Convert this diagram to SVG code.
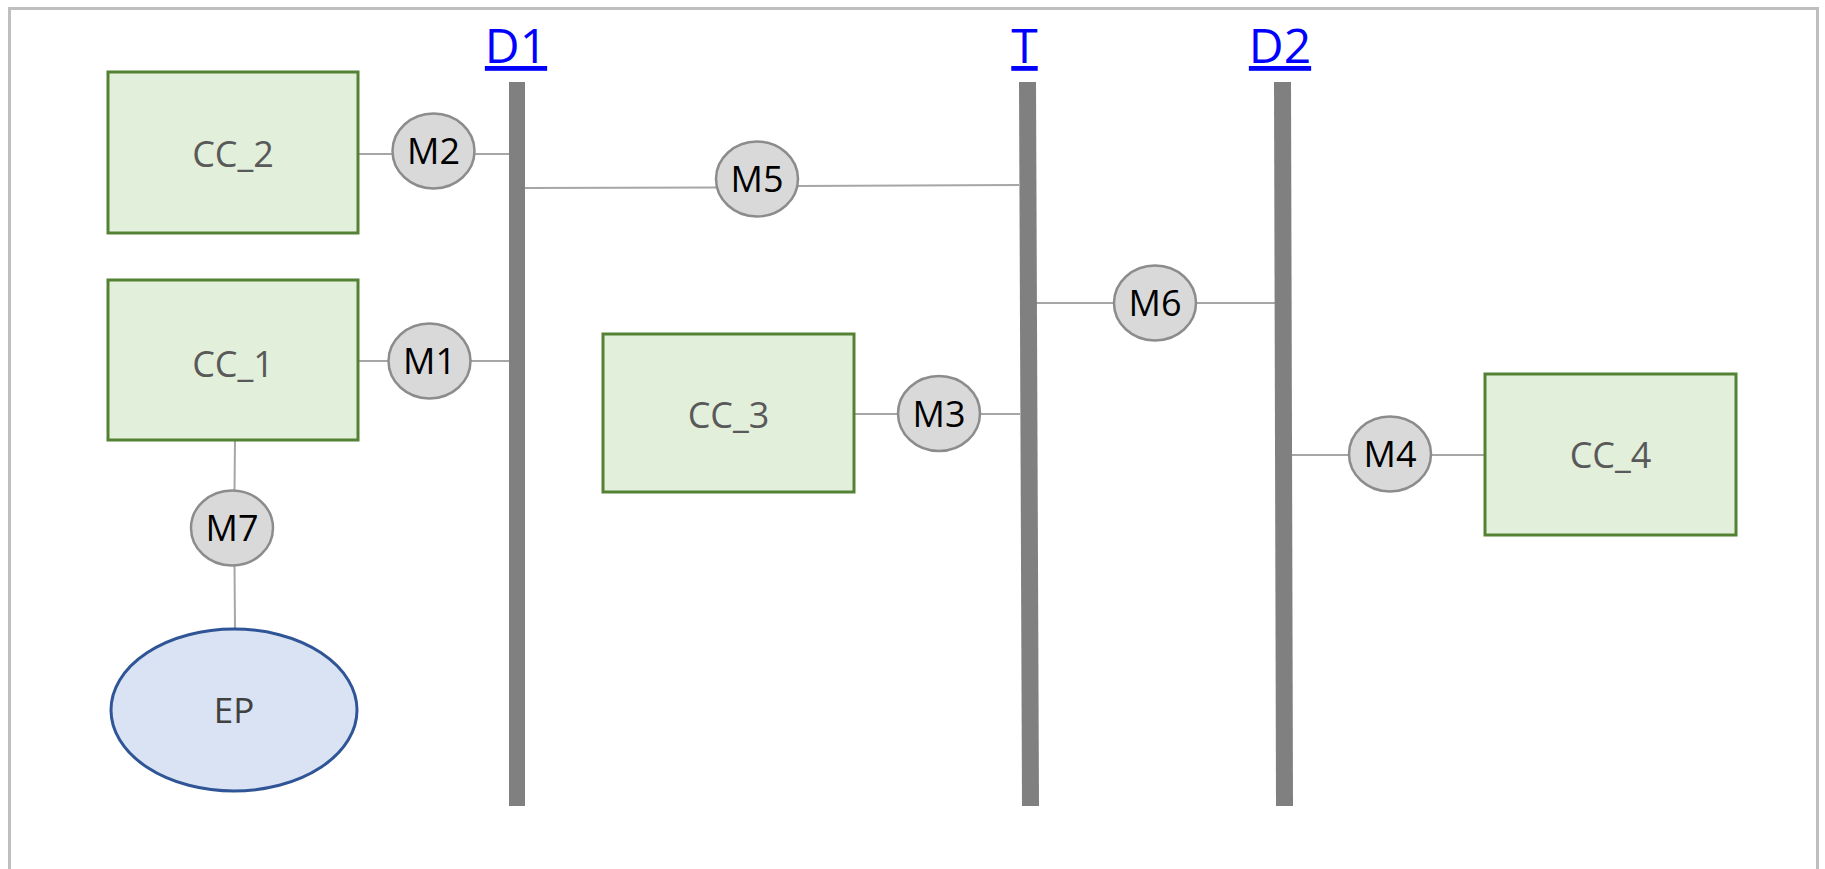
<svg xmlns="http://www.w3.org/2000/svg" width="1825" height="869" viewBox="0 0 1825 869">
<style>
.cc{fill:#e2efda;stroke:#548235;stroke-width:3}
.m{fill:#d9d9d9;stroke:#8c8c8c;stroke-width:2.5}
.ep{fill:#dae3f3;stroke:#2f5597;stroke-width:3}
.bar{fill:#808080}
.ln{stroke:#a6a6a6;stroke-width:2;fill:none}
.cct{font-family:"Open Sans","Liberation Sans",sans-serif;font-size:36px;fill:#595959;text-anchor:middle}
.mt{font-family:"Open Sans","Liberation Sans",sans-serif;font-size:36px;fill:#000;text-anchor:middle}
.ept{font-family:"Open Sans","Liberation Sans",sans-serif;font-size:35px;fill:#404040;text-anchor:middle}
.lbl{font-family:"Open Sans","Liberation Sans",sans-serif;font-size:48px;fill:#0000ff;text-anchor:middle;text-decoration:underline}
</style>
<rect x="9.5" y="8.5" width="1808" height="900" fill="#fff" stroke="#bfbfbf" stroke-width="3"/>
<g id="connectors">
<line class="ln" x1="358" y1="154" x2="393" y2="154"/>
<line class="ln" x1="474" y1="154" x2="509" y2="154"/>
<line class="ln" x1="525" y1="188" x2="716" y2="187.5"/>
<line class="ln" x1="798" y1="186" x2="1019" y2="185"/>
<line class="ln" x1="358" y1="361" x2="389" y2="361"/>
<line class="ln" x1="470" y1="361" x2="509" y2="361"/>
<line class="ln" x1="235" y1="440" x2="234.5" y2="491"/>
<line class="ln" x1="234.5" y1="565" x2="235" y2="629"/>
<line class="ln" x1="1036" y1="303" x2="1114" y2="303"/>
<line class="ln" x1="1196" y1="303" x2="1275" y2="303"/>
<line class="ln" x1="854" y1="414" x2="898" y2="414"/>
<line class="ln" x1="980" y1="414" x2="1020" y2="414"/>
<line class="ln" x1="1291" y1="455" x2="1349" y2="455"/>
<line class="ln" x1="1431" y1="455" x2="1485" y2="455"/>
</g>
<g id="D1">
<polygon class="bar" points="509,82 525,82 525,806 509,806"/>
<text class="lbl" x="516" y="63">D1</text>
</g>
<g id="T">
<polygon class="bar" points="1019,82 1036,82 1039,806 1022,806"/>
<text class="lbl" x="1024.5" y="63">T</text>
</g>
<g id="D2">
<polygon class="bar" points="1274,82 1291,82 1293,806 1276,806"/>
<text class="lbl" x="1280" y="63">D2</text>
</g>
<g id="CC_2">
<rect class="cc" x="108" y="72" width="250" height="161"/>
<text class="cct" x="233" y="167">CC_2</text>
</g>
<g id="CC_1">
<rect class="cc" x="108" y="280" width="250" height="160"/>
<text class="cct" x="233" y="377">CC_1</text>
</g>
<g id="CC_3">
<rect class="cc" x="603" y="334" width="251" height="158"/>
<text class="cct" x="728.5" y="428">CC_3</text>
</g>
<g id="CC_4">
<rect class="cc" x="1485" y="374" width="251" height="161"/>
<text class="cct" x="1610.5" y="468">CC_4</text>
</g>
<g id="EP">
<ellipse class="ep" cx="234" cy="710" rx="123" ry="81"/>
<text class="ept" x="234" y="723">EP</text>
</g>
<g id="M2">
<ellipse class="m" cx="433.5" cy="151" rx="41" ry="37.5"/>
<text class="mt" x="433.5" y="164">M2</text>
</g>
<g id="M1">
<ellipse class="m" cx="429.5" cy="361" rx="41" ry="37.5"/>
<text class="mt" x="429.5" y="374">M1</text>
</g>
<g id="M7">
<ellipse class="m" cx="232" cy="528" rx="41" ry="37.5"/>
<text class="mt" x="232" y="541">M7</text>
</g>
<g id="M5">
<ellipse class="m" cx="757" cy="179" rx="41" ry="37.5"/>
<text class="mt" x="757" y="192">M5</text>
</g>
<g id="M6">
<ellipse class="m" cx="1155" cy="303" rx="41" ry="37.5"/>
<text class="mt" x="1155" y="316">M6</text>
</g>
<g id="M3">
<ellipse class="m" cx="939" cy="413.5" rx="41" ry="37.5"/>
<text class="mt" x="939" y="426.5">M3</text>
</g>
<g id="M4">
<ellipse class="m" cx="1390" cy="454" rx="41" ry="37.5"/>
<text class="mt" x="1390" y="467">M4</text>
</g>
</svg>
